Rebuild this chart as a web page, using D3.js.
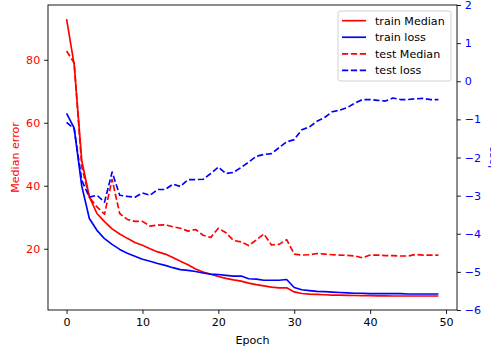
<!DOCTYPE html>
<html>
<head>
<meta charset="utf-8">
<script src="https://cdn.jsdelivr.net/npm/d3@7"></script>
<style>
  body { margin: 0; background: #fff; }
  svg text { font-family: "DejaVu Sans", sans-serif; font-size: 11.1px; }
</style>
</head>
<body>
<script>
var W = 491, H = 351;
var pLeft = 48, pRight = 457, pTop = 5, pBottom = 310;

// values, one per epoch (0..49)
var epochs = d3.range(0, 50);
var trainMedian = [92.9, 78.5, 48, 36.5, 31.2, 28.6, 26.3, 24.7, 23.3, 22.0,
  21.1, 20.0, 19.0, 18.3, 17.2, 16.0, 14.9, 13.6, 12.6, 11.9,
  11.2, 10.6, 10.1, 9.7, 9.1, 8.6, 8.2, 7.8, 7.6, 7.6,
  6.3, 5.8, 5.6, 5.5, 5.4, 5.3, 5.25, 5.2, 5.15, 5.1,
  5.1, 5.05, 5.05, 5.0, 5.0, 5.0, 5.0, 5.0, 5.0, 5.0];
var testMedian = [82.8, 79.0, 46, 36.3, 33.3, 31.0, 42.0, 31.2, 29.3, 28.7,
  28.7, 27.2, 27.5, 27.6, 27.0, 26.5, 25.6, 26.1, 24.3, 23.6,
  26.5, 25.1, 22.6, 22.2, 21.0, 22.8, 24.7, 21.2, 21.4, 22.9,
  18.3, 18.0, 18.1, 18.5, 18.3, 18.1, 18.0, 17.9, 17.7, 17.1,
  18.0, 18.0, 17.8, 17.8, 17.7, 17.7, 18.2, 18.0, 18.0, 18.0];
var trainLoss = [-0.84, -1.23, -2.75, -3.60, -3.91, -4.13, -4.28, -4.41, -4.51, -4.59,
  -4.67, -4.72, -4.78, -4.83, -4.89, -4.94, -4.96, -4.99, -5.03, -5.06,
  -5.07, -5.09, -5.11, -5.11, -5.18, -5.19, -5.22, -5.22, -5.22, -5.20,
  -5.41, -5.47, -5.49, -5.51, -5.52, -5.53, -5.54, -5.55, -5.56, -5.56,
  -5.57, -5.57, -5.57, -5.57, -5.57, -5.58, -5.58, -5.58, -5.58, -5.58];
var testLoss = [-1.08, -1.25, -2.6, -3.04, -2.99, -3.17, -2.38, -2.99, -3.02, -3.04,
  -2.93, -2.99, -2.84, -2.84, -2.70, -2.76, -2.58, -2.58, -2.57, -2.42,
  -2.25, -2.42, -2.39, -2.26, -2.12, -1.97, -1.92, -1.90, -1.74, -1.59,
  -1.53, -1.27, -1.20, -1.05, -0.95, -0.80, -0.76, -0.69, -0.57, -0.48,
  -0.48, -0.50, -0.52, -0.44, -0.48, -0.48, -0.46, -0.45, -0.48, -0.48];

var xTicks = [0, 10, 20, 30, 40, 50];
var medianTicks = [20, 40, 60, 80];
var lossTicks = [-6, -5, -4, -3, -2, -1, 0, 1, 2];
var legendLabels = ["train Median", "train loss", "test Median", "test loss"];

var red = "#ff0000", blue = "#0000ff";

var svg = d3.select("body").append("svg")
  .attr("width", W).attr("height", H);

var x = d3.scaleLinear().domain([-2.45, 51.45]).range([pLeft, pRight]);
var yMed = d3.scaleLinear().domain([0.55, 97.4]).range([pBottom, pTop]);
var yLoss = d3.scaleLinear().domain([-6, 2]).range([pBottom, pTop]);

// axes
var xAxis = svg.append("g").attr("transform", "translate(0," + pBottom + ")")
  .call(d3.axisBottom(x).tickValues(xTicks).tickSizeOuter(0).tickSize(3.9).tickPadding(3.9));
var lAxis = svg.append("g").attr("transform", "translate(" + pLeft + ",0)")
  .call(d3.axisLeft(yMed).tickValues(medianTicks).tickSizeOuter(0).tickSize(3.9).tickPadding(3.9));
var rAxis = svg.append("g").attr("transform", "translate(" + pRight + ",0)")
  .call(d3.axisRight(yLoss).tickValues(lossTicks).tickSizeOuter(0).tickSize(3.9).tickPadding(3.9)
    .tickFormat(function(d){ return d < 0 ? "\u2212" + Math.abs(d) : d; }));

[xAxis, lAxis, rAxis].forEach(function(g){
  g.select(".domain").remove();
  g.selectAll("line").attr("stroke", "#000").attr("stroke-width", 0.9);
  g.selectAll("text").attr("font-size", "11.1px").attr("font-family", "DejaVu Sans, sans-serif");
});
xAxis.selectAll("text").attr("fill", "#000");
lAxis.selectAll("text").attr("fill", red);
rAxis.selectAll("text").attr("fill", blue);

// lines
var lineMed = d3.line().x(function(d, i){ return x(epochs[i]); }).y(function(d){ return yMed(d); });
var lineLoss = d3.line().x(function(d, i){ return x(epochs[i]); }).y(function(d){ return yLoss(d); });

var series = [
  { data: trainMedian, line: lineMed, color: red, dash: null },
  { data: testMedian, line: lineMed, color: red, dash: "6.2,2.7" },
  { data: trainLoss, line: lineLoss, color: blue, dash: null },
  { data: testLoss, line: lineLoss, color: blue, dash: "6.2,2.7" }
];
series.forEach(function(s){
  svg.append("path")
    .attr("d", s.line(s.data))
    .attr("fill", "none")
    .attr("stroke", s.color)
    .attr("stroke-width", 1.67)
    .attr("stroke-linejoin", "round")
    .attr("stroke-dasharray", s.dash);
});

// frame
svg.append("rect")
  .attr("x", pLeft).attr("y", pTop)
  .attr("width", pRight - pLeft).attr("height", pBottom - pTop)
  .attr("fill", "none").attr("stroke", "#000").attr("stroke-width", 0.9);

// axis labels
svg.append("text").text("Epoch")
  .attr("x", (pLeft + pRight) / 2).attr("y", 344)
  .attr("text-anchor", "middle").attr("fill", "#000");
svg.append("text").text("Median error")
  .attr("transform", "translate(19," + ((pTop + pBottom) / 2) + ") rotate(-90)")
  .attr("text-anchor", "middle").attr("fill", red);
svg.append("text").text("loss")
  .attr("transform", "translate(496," + ((pTop + pBottom) / 2) + ") rotate(-90)")
  .attr("text-anchor", "middle").attr("fill", blue);

// legend
var legendItems = [
  { label: legendLabels[0], color: red, dash: null },
  { label: legendLabels[1], color: blue, dash: null },
  { label: legendLabels[2], color: red, dash: "6.2,2.7" },
  { label: legendLabels[3], color: blue, dash: "6.2,2.7" }
];
var lg = svg.append("g");
lg.append("rect")
  .attr("x", 338).attr("y", 11).attr("width", 113).attr("height", 70)
  .attr("rx", 2.2)
  .attr("fill", "#fff").attr("fill-opacity", 0.8)
  .attr("stroke", "#cccccc").attr("stroke-width", 0.9);
legendItems.forEach(function(it, i){
  var yy = 20.7 + i * 16.55;
  lg.append("line")
    .attr("x1", 342).attr("x2", 366).attr("y1", yy).attr("y2", yy)
    .attr("stroke", it.color).attr("stroke-width", 1.67)
    .attr("stroke-dasharray", it.dash);
  lg.append("text").text(it.label)
    .attr("x", 375).attr("y", yy).attr("dy", "0.35em")
    .attr("fill", "#000");
});
</script>
</body>
</html>
